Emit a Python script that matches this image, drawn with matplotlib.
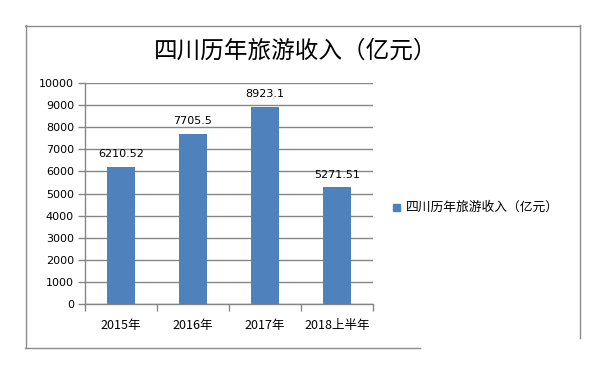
import matplotlib
matplotlib.use("Agg")
import matplotlib.pyplot as plt
from matplotlib.lines import Line2D
from matplotlib.patches import Rectangle

plt.rcParams["font.family"] = ["Noto Sans CJK SC", "DejaVu Sans"]

categories = ["2015年", "2016年", "2017年", "2018上半年"]
values = [6210.52, 7705.5, 8923.1, 5271.51]
value_labels = ["6210.52", "7705.5", "8923.1", "5271.51"]
y_ticks = list(range(0, 10001, 1000))
title = "四川历年旅游收入（亿元）"
series_name = "四川历年旅游收入（亿元）"

BAR_COLOR = "#4f81bd"
GRID_COLOR = "#868686"
BORDER_COLOR = "#8c8c8c"

W, H = 606, 369
fig = plt.figure(figsize=(W / 100, H / 100), dpi=100)
fig.patch.set_facecolor("white")

# plot area in pixels: x 85..373, y 83..304 (top-down)
ax = fig.add_axes([85 / W, 1 - 304 / H, (373 - 85) / W, (304 - 83) / H])
x = list(range(len(categories)))
ax.bar(x, values, width=0.39, color=BAR_COLOR, zorder=3)
for xi, v, lab in zip(x, values, value_labels):
    ax.text(xi, v + 350, lab, ha="center", va="bottom", fontsize=8,
            family=["DejaVu Sans"], color="#000000")

ax.set_xlim(-0.5, len(categories) - 0.5)
ax.set_ylim(0, 10000)
ax.set_yticks(y_ticks)
ax.set_yticklabels([str(t) for t in y_ticks], fontsize=8, family=["DejaVu Sans"])
ax.yaxis.grid(True, color=GRID_COLOR, lw=1.0, zorder=0)
ax.set_axisbelow(True)

ax.set_xticks(x)
ax.set_xticklabels(categories, fontsize=9)
ax.tick_params(axis="x", length=0, pad=11)
ax.set_xticks([i - 0.5 for i in range(len(categories) + 1)], minor=True)
ax.tick_params(axis="x", which="minor", length=5, color=GRID_COLOR, width=1)
ax.tick_params(axis="y", length=5, color=GRID_COLOR, width=1, pad=3)

for side in ["top", "right"]:
    ax.spines[side].set_visible(False)
for side in ["left", "bottom"]:
    ax.spines[side].set_color(GRID_COLOR)
    ax.spines[side].set_linewidth(1.0)

fig.text(296 / W, 1 - 51 / H, title, ha="center", va="center",
         fontsize=17, color="#000000")

# legend
fig.patches.append(Rectangle(((396 - 3.5) / W, 1 - (207 + 3.5) / H), 7 / W, 7 / H,
                             transform=fig.transFigure, color=BAR_COLOR))
fig.text(406 / W, 1 - 207 / H, series_name, ha="left", va="center", fontsize=9.2)

# outer border (partly cropped)
def fig_line(xs, ys):
    fig.lines.append(Line2D([v / W for v in xs], [1 - v / H for v in ys],
                            transform=fig.transFigure, color=BORDER_COLOR, lw=1.0))

fig_line([25, 580], [25.5, 25.5])
fig_line([25.5, 25.5], [25, 348])
fig_line([25, 420], [348, 348])
fig_line([579.5, 579.5], [25, 338])

fig.savefig("out.png", dpi=100, facecolor="white")
